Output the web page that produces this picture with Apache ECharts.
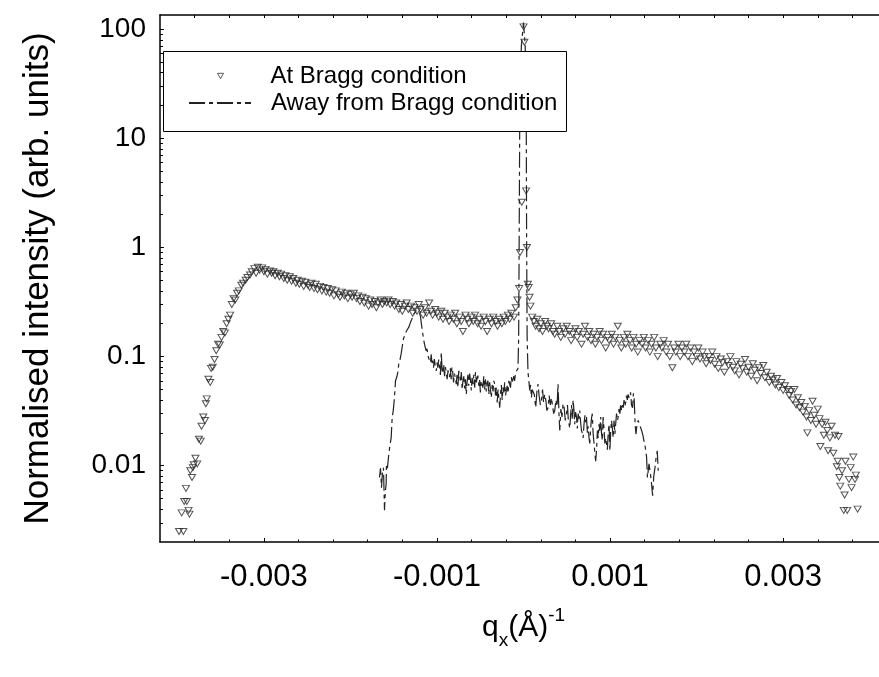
<!DOCTYPE html>
<html>
<head>
<meta charset="utf-8">
<title>Normalised intensity vs qx</title>
<script src="https://cdn.jsdelivr.net/npm/echarts@6/dist/echarts.min.js"></script>
<style>
html, body { margin: 0; padding: 0; background: #fff; }
#chart { width: 879px; height: 677px; }
</style>
</head>
<body>
<div id="chart"></div>
<script>
// At Bragg condition (triangles)
var braggQ = [
    -0.00398, -0.00395, -0.00393, -0.00392, -0.00390, -0.00389, -0.00387, -0.00386, -0.00385, -0.00383,
    -0.00382, -0.00381, -0.00379, -0.00377, -0.00375, -0.00373, -0.00372, -0.00370, -0.00368, -0.00367,
    -0.00366, -0.00364, -0.00362, -0.00361, -0.00359, -0.00357, -0.00355, -0.00353, -0.00351, -0.00349,
    -0.00347, -0.00345, -0.00343, -0.00341, -0.00339, -0.00337, -0.00335, -0.00333, -0.00331, -0.00329,
    -0.00326, -0.00324, -0.00321, -0.00319, -0.00316, -0.00314, -0.00311, -0.00309, -0.00307, -0.00305,
    -0.00302, -0.00300, -0.00298, -0.00296, -0.00293, -0.00291, -0.00289, -0.00287, -0.00284, -0.00282,
    -0.00280, -0.00277, -0.00275, -0.00273, -0.00270, -0.00268, -0.00266, -0.00263, -0.00261, -0.00259,
    -0.00256, -0.00254, -0.00252, -0.00249, -0.00247, -0.00245, -0.00242, -0.00240, -0.00238, -0.00235,
    -0.00233, -0.00231, -0.00228, -0.00226, -0.00224, -0.00221, -0.00219, -0.00217, -0.00214, -0.00212,
    -0.00210, -0.00207, -0.00205, -0.00203, -0.00200, -0.00198, -0.00196, -0.00193, -0.00191, -0.00189,
    -0.00186, -0.00184, -0.00182, -0.00179, -0.00177, -0.00175, -0.00172, -0.00170, -0.00168, -0.00165,
    -0.00163, -0.00161, -0.00158, -0.00156, -0.00154, -0.00151, -0.00149, -0.00147, -0.00144, -0.00142,
    -0.00140, -0.00137, -0.00135, -0.00133, -0.00130, -0.00128, -0.00126, -0.00123, -0.00121, -0.00119,
    -0.00116, -0.00114, -0.00112, -0.00109, -0.00107, -0.00105, -0.00102, -0.00100, -0.00098, -0.00095,
    -0.00093, -0.00091, -0.00088, -0.00086, -0.00084, -0.00081, -0.00079, -0.00077, -0.00074, -0.00072,
    -0.00070, -0.00067, -0.00065, -0.00063, -0.00060, -0.00058, -0.00056, -0.00053, -0.00051, -0.00049,
    -0.00046, -0.00044, -0.00042, -0.00039, -0.00037, -0.00035, -0.00032, -0.00030, -0.00028, -0.00025,
    -0.00023, -0.00021, -0.00018, -0.00016, -0.00014, -0.00011, -0.00009, -0.00007, -0.00005, -0.00004,
    -0.00002, 0.00000, 0.00001, 0.00003, 0.00004, 0.00005, 0.00006, 0.00007, 0.00008, 0.00010,
    0.00012, 0.00014, 0.00016, 0.00018, 0.00020, 0.00022, 0.00025, 0.00027, 0.00029, 0.00032,
    0.00034, 0.00036, 0.00039, 0.00041, 0.00043, 0.00046, 0.00048, 0.00050, 0.00053, 0.00055,
    0.00057, 0.00060, 0.00062, 0.00064, 0.00067, 0.00069, 0.00071, 0.00074, 0.00076, 0.00078,
    0.00081, 0.00083, 0.00085, 0.00088, 0.00090, 0.00092, 0.00095, 0.00097, 0.00099, 0.00102,
    0.00104, 0.00106, 0.00109, 0.00111, 0.00113, 0.00116, 0.00118, 0.00120, 0.00123, 0.00125,
    0.00127, 0.00130, 0.00132, 0.00134, 0.00137, 0.00139, 0.00141, 0.00144, 0.00146, 0.00148,
    0.00151, 0.00153, 0.00155, 0.00158, 0.00160, 0.00162, 0.00165, 0.00167, 0.00169, 0.00172,
    0.00174, 0.00176, 0.00179, 0.00181, 0.00183, 0.00186, 0.00188, 0.00190, 0.00193, 0.00195,
    0.00197, 0.00200, 0.00202, 0.00204, 0.00207, 0.00209, 0.00211, 0.00214, 0.00216, 0.00218,
    0.00221, 0.00223, 0.00225, 0.00228, 0.00230, 0.00232, 0.00235, 0.00237, 0.00239, 0.00242,
    0.00244, 0.00246, 0.00249, 0.00251, 0.00253, 0.00256, 0.00258, 0.00260, 0.00263, 0.00265,
    0.00267, 0.00270, 0.00272, 0.00274, 0.00277, 0.00279, 0.00281, 0.00284, 0.00286, 0.00288,
    0.00291, 0.00293, 0.00295, 0.00298, 0.00300, 0.00302, 0.00305, 0.00307, 0.00309, 0.00311,
    0.00313, 0.00315, 0.00317, 0.00319, 0.00321, 0.00323, 0.00325, 0.00327, 0.00328, 0.00330,
    0.00332, 0.00334, 0.00336, 0.00338, 0.00340, 0.00342, 0.00343, 0.00345, 0.00347, 0.00349,
    0.00351, 0.00352, 0.00354, 0.00356, 0.00358, 0.00360, 0.00362, 0.00363, 0.00364, 0.00365,
    0.00366, 0.00368, 0.00370, 0.00371, 0.00372, 0.00374, 0.00376, 0.00378, 0.00379, 0.00381,
    0.00383, 0.00384, 0.00386
];
var braggI = [
    0.0025, 0.0037, 0.0025, 0.0047, 0.0062, 0.0047, 0.0039, 0.0036, 0.009, 0.0078,
    0.0096, 0.0102, 0.0117, 0.0104, 0.0175, 0.0168, 0.023, 0.028, 0.026, 0.037,
    0.041, 0.062, 0.058, 0.078, 0.08, 0.094, 0.113, 0.13, 0.128, 0.15,
    0.17, 0.165, 0.2, 0.22, 0.24, 0.3, 0.34, 0.33, 0.38, 0.4,
    0.45, 0.47, 0.5, 0.53, 0.56, 0.6, 0.64, 0.58, 0.66, 0.62,
    0.65, 0.6, 0.63, 0.57, 0.61, 0.58, 0.6, 0.55, 0.58, 0.54,
    0.57, 0.52, 0.55, 0.5, 0.54, 0.49, 0.52, 0.47, 0.5, 0.46,
    0.49, 0.44, 0.48, 0.45, 0.43, 0.47, 0.42, 0.46, 0.41, 0.44,
    0.4, 0.43, 0.39, 0.42, 0.38, 0.41, 0.36, 0.4, 0.37, 0.35,
    0.39, 0.36, 0.38, 0.34, 0.37, 0.35, 0.38, 0.34, 0.36, 0.32,
    0.35, 0.31, 0.34, 0.29, 0.33, 0.3, 0.32, 0.28, 0.31, 0.33,
    0.3, 0.32, 0.31, 0.33, 0.3, 0.32, 0.29, 0.31, 0.27, 0.3,
    0.26, 0.29, 0.31, 0.27, 0.29, 0.25, 0.28, 0.26, 0.3, 0.27,
    0.24, 0.28, 0.25, 0.31, 0.26, 0.24, 0.27, 0.25, 0.23, 0.26,
    0.22, 0.25, 0.23, 0.21, 0.24, 0.22, 0.25, 0.2, 0.23, 0.21,
    0.17, 0.24, 0.22, 0.2, 0.23, 0.21, 0.24, 0.2, 0.22, 0.19,
    0.23, 0.21, 0.17, 0.22, 0.2, 0.23, 0.21, 0.19, 0.22, 0.2,
    0.23, 0.21, 0.24, 0.22, 0.25, 0.23, 0.28, 0.33, 0.42, 0.9,
    2.6, 105, 76, 3.3, 1.0, 0.46, 0.43, 0.35, 0.29, 0.23,
    0.21, 0.19, 0.22, 0.18, 0.2, 0.17, 0.21, 0.19, 0.18, 0.2,
    0.17, 0.16, 0.19, 0.17, 0.15, 0.18, 0.16, 0.19, 0.17, 0.14,
    0.16, 0.18, 0.15, 0.17, 0.13, 0.16, 0.19, 0.15, 0.17, 0.14,
    0.16, 0.13, 0.15, 0.17, 0.14, 0.16, 0.12, 0.15, 0.14, 0.16,
    0.13, 0.15, 0.19, 0.14, 0.12, 0.15, 0.13, 0.16, 0.14, 0.12,
    0.15, 0.13, 0.11, 0.14, 0.13, 0.15, 0.12, 0.14, 0.11, 0.13,
    0.15, 0.12, 0.1, 0.13, 0.12, 0.14, 0.11, 0.13, 0.1, 0.079,
    0.12, 0.11, 0.13, 0.1, 0.12, 0.11, 0.13, 0.1, 0.12, 0.09,
    0.11, 0.1, 0.12, 0.095, 0.11, 0.1, 0.086, 0.1, 0.092, 0.11,
    0.085, 0.1, 0.078, 0.095, 0.088, 0.072, 0.09, 0.083, 0.1, 0.08,
    0.074, 0.09, 0.068, 0.085, 0.078, 0.094, 0.072, 0.08, 0.066, 0.086,
    0.075, 0.06, 0.079, 0.07, 0.083, 0.064, 0.072, 0.058, 0.066, 0.061,
    0.055, 0.063, 0.052, 0.058, 0.049, 0.054, 0.05, 0.044, 0.048, 0.04,
    0.05, 0.036, 0.042, 0.034, 0.038, 0.031, 0.035, 0.028, 0.02, 0.032,
    0.026, 0.039, 0.029, 0.024, 0.033, 0.027, 0.015, 0.024, 0.019, 0.025,
    0.021, 0.0137, 0.018, 0.023, 0.013, 0.019, 0.0098, 0.011, 0.0185, 0.0078,
    0.0065, 0.009, 0.0039, 0.0054, 0.011, 0.0039, 0.0075, 0.0096, 0.0063, 0.012,
    0.0075, 0.0082, 0.004
];

// Away from Bragg condition (dash-dot line)
var awayQ = [
    -0.001664, -0.001652, -0.001641, -0.001630, -0.001618, -0.001606, -0.001597, -0.001587, -0.001583, -0.001572,
    -0.001560, -0.001545, -0.001529, -0.001517, -0.001505, -0.001491, -0.001479, -0.001464, -0.001452, -0.001441,
    -0.001425, -0.001413, -0.001400, -0.001387, -0.001370, -0.001355, -0.001340, -0.001325, -0.001306, -0.001290,
    -0.001279, -0.001260, -0.001240, -0.001220, -0.001201, -0.001190, -0.001182, -0.001172, -0.001163, -0.001153,
    -0.001144, -0.001134, -0.001124, -0.001115, -0.001105, -0.001096, -0.001086, -0.001076, -0.001066, -0.001058,
    -0.001051, -0.001040, -0.001030, -0.001020, -0.001008, -0.000998, -0.000990, -0.000980, -0.000970, -0.000960,
    -0.000950, -0.000941, -0.000932, -0.000922, -0.000912, -0.000902, -0.000892, -0.000882, -0.000872, -0.000864,
    -0.000854, -0.000845, -0.000836, -0.000828, -0.000819, -0.000808, -0.000798, -0.000788, -0.000777, -0.000768,
    -0.000758, -0.000748, -0.000738, -0.000728, -0.000718, -0.000709, -0.000700, -0.000690, -0.000680, -0.000671,
    -0.000661, -0.000652, -0.000642, -0.000633, -0.000623, -0.000613, -0.000603, -0.000594, -0.000584, -0.000574,
    -0.000564, -0.000555, -0.000545, -0.000536, -0.000527, -0.000517, -0.000507, -0.000498, -0.000488, -0.000478,
    -0.000469, -0.000459, -0.000449, -0.000440, -0.000430, -0.000421, -0.000411, -0.000401, -0.000391, -0.000382,
    -0.000372, -0.000362, -0.000352, -0.000343, -0.000333, -0.000323, -0.000314, -0.000304, -0.000294, -0.000285,
    -0.000275, -0.000265, -0.000256, -0.000246, -0.000237, -0.000227, -0.000217, -0.000208, -0.000198, -0.000188,
    -0.000179, -0.000169, -0.000160, -0.000150, -0.000141, -0.000131, -0.000122, -0.000112, -0.000102, -0.000092,
    -0.000082, -0.000072, -0.000064, -0.000056, -0.000050, -0.000044, -0.000025, 0.000000, 0.000020, 0.000032,
    0.000036, 0.000042, 0.000052, 0.000062, 0.000072, 0.000082, 0.000091, 0.000100, 0.000110, 0.000125,
    0.000141, 0.000155, 0.000168, 0.000180, 0.000195, 0.000207, 0.000220, 0.000232, 0.000245, 0.000258,
    0.000270, 0.000284, 0.000296, 0.000310, 0.000323, 0.000336, 0.000349, 0.000361, 0.000375, 0.000388,
    0.000399, 0.000410, 0.000419, 0.000432, 0.000445, 0.000457, 0.000470, 0.000483, 0.000497, 0.000508,
    0.000517, 0.000526, 0.000535, 0.000545, 0.000555, 0.000563, 0.000573, 0.000582, 0.000592, 0.000602,
    0.000612, 0.000622, 0.000631, 0.000641, 0.000650, 0.000660, 0.000670, 0.000680, 0.000689, 0.000699,
    0.000710, 0.000719, 0.000728, 0.000738, 0.000747, 0.000757, 0.000766, 0.000776, 0.000785, 0.000795,
    0.000804, 0.000815, 0.000825, 0.000834, 0.000844, 0.000854, 0.000863, 0.000872, 0.000882, 0.000892,
    0.000901, 0.000911, 0.000920, 0.000930, 0.000940, 0.000949, 0.000959, 0.000969, 0.000979, 0.000988,
    0.000998, 0.001008, 0.001017, 0.001027, 0.001036, 0.001046, 0.001056, 0.001065, 0.001075, 0.001085,
    0.001094, 0.001104, 0.001114, 0.001123, 0.001133, 0.001143, 0.001152, 0.001162, 0.001171, 0.001181,
    0.001190, 0.001200, 0.001209, 0.001220, 0.001237, 0.001248, 0.001260, 0.001270, 0.001279, 0.001290,
    0.001299, 0.001312, 0.001325, 0.001345, 0.001365, 0.001380, 0.001391, 0.001406, 0.001422, 0.001432,
    0.001441, 0.001450, 0.001461, 0.001475, 0.001492, 0.001505, 0.001519, 0.001532, 0.001545, 0.001557
];
var awayI = [
    0.0078, 0.0095, 0.0063, 0.0085, 0.0096, 0.0039, 0.0058, 0.0068, 0.0104, 0.0095,
    0.012, 0.015, 0.018, 0.028, 0.032, 0.042, 0.06, 0.065, 0.072, 0.086,
    0.095, 0.107, 0.125, 0.146, 0.158, 0.17, 0.178, 0.186, 0.206, 0.22,
    0.238, 0.25, 0.262, 0.258, 0.25, 0.232, 0.206, 0.18, 0.16, 0.142,
    0.13, 0.12, 0.113, 0.118, 0.104, 0.097, 0.099, 0.088, 0.105, 0.085,
    0.092, 0.079, 0.095, 0.083, 0.074, 0.088, 0.079, 0.094, 0.092, 0.068,
    0.109, 0.076, 0.07, 0.085, 0.066, 0.08, 0.08, 0.062, 0.075, 0.068,
    0.065, 0.078, 0.062, 0.08, 0.074, 0.058, 0.07, 0.064, 0.056, 0.068,
    0.052, 0.074, 0.07, 0.058, 0.072, 0.05, 0.06, 0.066, 0.051, 0.062,
    0.045, 0.058, 0.068, 0.054, 0.07, 0.061, 0.049, 0.064, 0.056, 0.068,
    0.052, 0.072, 0.058, 0.063, 0.067, 0.054, 0.061, 0.047, 0.06, 0.055,
    0.052, 0.066, 0.05, 0.062, 0.048, 0.057, 0.06, 0.045, 0.058, 0.05,
    0.042, 0.055, 0.048, 0.06, 0.056, 0.044, 0.052, 0.038, 0.05, 0.042,
    0.034, 0.046, 0.055, 0.04, 0.052, 0.047, 0.058, 0.044, 0.049, 0.054,
    0.046, 0.06, 0.058, 0.052, 0.065, 0.057, 0.062, 0.066, 0.06, 0.072,
    0.07, 0.075, 0.077, 0.15, 1.2, 12, 70, 115, 70, 12,
    1.2, 0.15, 0.072, 0.06, 0.049, 0.055, 0.042, 0.05, 0.052, 0.045,
    0.034, 0.048, 0.056, 0.044, 0.036, 0.04, 0.05, 0.038, 0.045, 0.04,
    0.032, 0.034, 0.044, 0.036, 0.042, 0.035, 0.03, 0.032, 0.04, 0.035,
    0.056, 0.03, 0.021, 0.033, 0.028, 0.037, 0.034, 0.026, 0.03, 0.036,
    0.027, 0.024, 0.022, 0.03, 0.036, 0.027, 0.04, 0.033, 0.024, 0.031,
    0.028, 0.022, 0.03, 0.027, 0.032, 0.025, 0.021, 0.02, 0.018, 0.024,
    0.029, 0.025, 0.028, 0.02, 0.023, 0.018, 0.016, 0.022, 0.027, 0.03,
    0.02, 0.016, 0.013, 0.011, 0.014, 0.021, 0.018, 0.024, 0.021, 0.028,
    0.02, 0.017, 0.028, 0.022, 0.016, 0.018, 0.016, 0.014, 0.02, 0.024,
    0.0137, 0.021, 0.026, 0.022, 0.018, 0.026, 0.0195, 0.024, 0.03, 0.026,
    0.028, 0.033, 0.03, 0.037, 0.032, 0.036, 0.034, 0.04, 0.035, 0.038,
    0.044, 0.04, 0.045, 0.042, 0.047, 0.036, 0.034, 0.046, 0.041, 0.024,
    0.0195, 0.024, 0.026, 0.025, 0.021, 0.019, 0.017, 0.015, 0.012, 0.0078,
    0.0078, 0.0104, 0.0104, 0.0075, 0.0053, 0.008, 0.0096, 0.0118, 0.0137, 0.009
];

var xMajorTicks = [-0.003, -0.001, 0.001, 0.003];
var xMinorTicks = [-0.0038, -0.0034, -0.003, -0.0026, -0.0022, -0.0018, -0.0014, -0.001, -0.0006, -0.0002,
    0.0002, 0.0006, 0.001, 0.0014, 0.0018, 0.0022, 0.0026, 0.003, 0.0034, 0.0038];
var yMajorTicks = [0.01, 0.1, 1, 10, 100];
var yMinorTicks = [0.003, 0.004, 0.005, 0.006, 0.007, 0.008, 0.009,
    0.02, 0.03, 0.04, 0.05, 0.06, 0.07, 0.08, 0.09,
    0.2, 0.3, 0.4, 0.5, 0.6, 0.7, 0.8, 0.9,
    2, 3, 4, 5, 6, 7, 8, 9,
    20, 30, 40, 50, 60, 70, 80, 90];

var FONT = 'Liberation Sans, Arial, sans-serif';
var X_MIN = -0.0042, X_MAX = 0.0042;
var Y_MIN = 0.002, Y_MAX = 135;
var NAME_BRAGG = 'At Bragg condition';
var NAME_AWAY = 'Away from Bragg condition';
var DOWN_TRIANGLE = 'path://M0,0L10,0L5,9Z';

function zipPairs(xs, ys) {
    var out = [];
    for (var i = 0; i < xs.length; i++) {
        out.push([xs[i], ys[i]]);
    }
    return out;
}

// extra axes that only carry tick marks
function tickAxisX(position, ticks, len, showLine) {
    return {
        type: 'value', min: X_MIN, max: X_MAX, position: position,
        axisLine: { show: showLine, onZero: false, lineStyle: { color: '#000', width: 1.5 } },
        axisTick: { show: true, inside: true, length: len, customValues: ticks, lineStyle: { color: '#000', width: 1 } },
        axisLabel: { show: false },
        splitLine: { show: false }
    };
}

function legendRow(item, top, iconLeft, iconWidth, iconHeight, textPad) {
    return {
        left: iconLeft, top: top,
        orient: 'vertical',
        padding: 0,
        itemWidth: iconWidth, itemHeight: iconHeight,
        textStyle: { fontFamily: FONT, fontSize: 24, color: '#000', padding: [0, 0, 0, textPad] },
        selectedMode: false,
        z: 10,
        data: [item]
    };
}

function drawChart() {
    var chart = echarts.init(document.getElementById('chart'), null, { renderer: 'canvas' });
    var option = {
        animation: false,
        backgroundColor: '#fff',
        textStyle: { fontFamily: FONT, color: '#000' },
        grid: { left: 160, top: 15, width: 727, height: 527, containLabel: false, outerBoundsMode: 'none' },
        graphic: [{
            type: 'rect', left: 163, top: 51, z: 9,
            shape: { width: 403, height: 80 },
            style: { fill: '#fff', stroke: '#000', lineWidth: 1 }
        }],
        legend: [
            legendRow({
                name: NAME_BRAGG, icon: DOWN_TRIANGLE,
                itemStyle: { color: '#fff', borderColor: '#333', borderWidth: 1 }
            }, 64, 217, 6, 6, 42),
            legendRow({ name: NAME_AWAY, itemStyle: { opacity: 0 } }, 91, 188, 62, 6, 15)
        ],
        xAxis: [
            {
                type: 'value', min: X_MIN, max: X_MAX, position: 'bottom',
                axisLine: { show: true, onZero: false, lineStyle: { color: '#000', width: 1.5 } },
                axisTick: { show: true, inside: true, length: 4, customValues: xMajorTicks, lineStyle: { color: '#000' } },
                axisLabel: {
                    customValues: xMajorTicks, margin: 20,
                    fontFamily: FONT, fontSize: 31, color: '#000',
                    formatter: function (v) { return v.toFixed(3); }
                },
                splitLine: { show: false },
                name: '{q|q}{sub|x}{q|(Å)}{sup|-1}',
                nameLocation: 'middle', nameGap: 64,
                nameTextStyle: {
                    rich: {
                        q: { fontFamily: FONT, fontSize: 30, color: '#000' },
                        sub: { fontFamily: FONT, fontSize: 19, color: '#000', verticalAlign: 'bottom', lineHeight: 44 },
                        sup: { fontFamily: FONT, fontSize: 19, color: '#000', verticalAlign: 'top' }
                    }
                }
            },
            tickAxisX('bottom', xMinorTicks, 2.5, false),
            tickAxisX('top', xMinorTicks, 3, true)
        ],
        yAxis: [
            {
                type: 'log', logBase: 10, min: Y_MIN, max: Y_MAX, position: 'left',
                axisLine: { show: true, onZero: false, lineStyle: { color: '#000', width: 1.5 } },
                axisTick: { show: true, inside: true, length: 4, customValues: yMajorTicks, lineStyle: { color: '#000' } },
                axisLabel: {
                    customValues: yMajorTicks, margin: 14,
                    fontFamily: FONT, fontSize: 28, color: '#000',
                    formatter: function (v) { return String(+v.toPrecision(2)); }
                },
                splitLine: { show: false },
                name: 'Normalised intensity (arb. units)',
                nameLocation: 'middle', nameGap: 104, nameRotate: 90,
                nameTextStyle: { fontFamily: FONT, fontSize: 35, color: '#000' }
            },
            {
                type: 'log', logBase: 10, min: Y_MIN, max: Y_MAX, position: 'left',
                axisLine: { show: false, onZero: false },
                axisTick: { show: true, inside: true, length: 3, customValues: yMinorTicks, lineStyle: { color: '#000' } },
                axisLabel: { show: false },
                splitLine: { show: false }
            }
        ],
        series: [
            {
                name: NAME_AWAY,
                type: 'line',
                xAxisIndex: 0, yAxisIndex: 0,
                data: zipPairs(awayQ, awayI),
                symbol: 'none',
                lineStyle: { color: '#222', width: 1.2, type: [16, 4, 4, 4] },
                itemStyle: { color: '#222' },
                z: 2
            },
            {
                name: NAME_BRAGG,
                type: 'scatter',
                xAxisIndex: 0, yAxisIndex: 0,
                data: zipPairs(braggQ, braggI),
                symbol: 'triangle', symbolRotate: 180, symbolSize: [7, 6],
                itemStyle: { color: 'transparent', borderColor: '#2a2a2a', borderWidth: 1 },
                z: 3
            }
        ]
    };
    chart.setOption(option);
}

drawChart();
</script>
</body>
</html>
